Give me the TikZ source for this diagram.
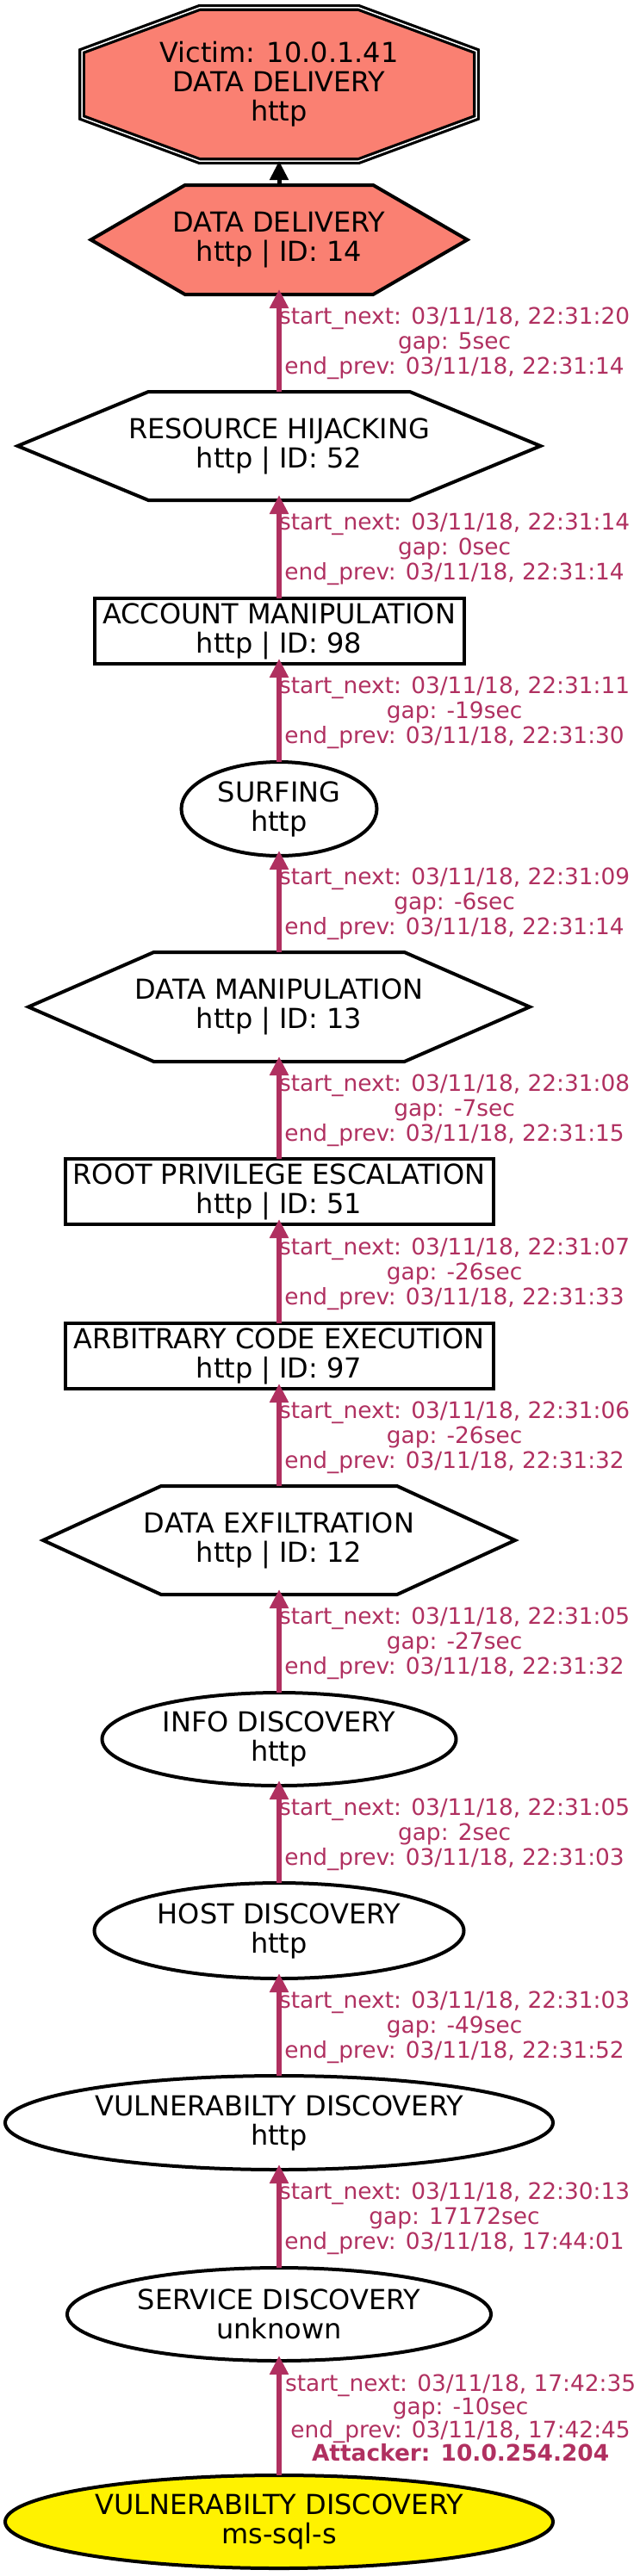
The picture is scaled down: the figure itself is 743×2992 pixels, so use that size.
\documentclass[tikz,border=0pt]{standalone}
\usepackage{fontspec}
\setmainfont{DejaVu Sans}
\usetikzlibrary{arrows.meta, calc, backgrounds, shapes.geometric}
\definecolor{edgemaroon}{HTML}{B03060}
\definecolor{nodesalmon}{HTML}{FA8072}

\tikzset{
  every node/.style={font=\fontsize{16}{17}\selectfont, align=center, outer sep=0pt, inner sep=0pt},
  ovalnode/.style={ellipse, draw, line width=2pt},
  boxnode/.style={rectangle, draw, line width=2pt},
  hexline/.style={draw, line width=2pt, line join=miter},
  flow/.style={draw=edgemaroon, line width=3pt, -{Triangle[length=11pt, width=10.5pt]}, shorten >=-3pt},
  gapinfo/.style={text=edgemaroon, font=\fontsize{13.2}{14.5}\selectfont, midway, right},
}

\begin{document}
\begin{tikzpicture}[x=0.5pt, y=-0.5pt]
  \useasboundingbox (0,0) rectangle (743,2992);

  \node[minimum width=229pt, minimum height=89pt]        (victim) at (324,98)     {Victim: 10.0.1.41\\DATA DELIVERY\\http};
  \node[minimum width=218.5pt, minimum height=63.5pt]    (dd)     at (324,278.5)  {DATA DELIVERY\\http | ID: 14};
  \node[minimum width=303.5pt, minimum height=63pt]      (rh)     at (324,518)    {RESOURCE HIJACKING\\http | ID: 52};
  \node[boxnode, minimum width=214.5pt, minimum height=38pt] (am) at (324,733)    {ACCOUNT MANIPULATION\\http | ID: 98};
  \node[ovalnode, minimum width=113.5pt, minimum height=54.5pt] (surf) at (324,939.5) {SURFING\\http};
  \node[minimum width=291pt, minimum height=63.5pt]      (dm)     at (324,1169.5) {DATA MANIPULATION\\http | ID: 13};
  \node[boxnode, minimum width=248.5pt, minimum height=38pt] (rpe) at (324,1384)  {ROOT PRIVILEGE ESCALATION\\http | ID: 51};
  \node[boxnode, minimum width=248.5pt, minimum height=38pt] (ace) at (324,1575)  {ARBITRARY CODE EXECUTION\\http | ID: 97};
  \node[minimum width=274pt, minimum height=63pt]        (de)     at (324,1789)   {DATA EXFILTRATION\\http | ID: 12};
  \node[ovalnode, minimum width=205.5pt, minimum height=54pt]   (info) at (324,2020)   {INFO DISCOVERY\\http};
  \node[ovalnode, minimum width=214.5pt, minimum height=55.5pt] (host) at (324,2242.5) {HOST DISCOVERY\\http};
  \node[ovalnode, minimum width=318pt, minimum height=54.5pt]   (vdh)  at (324,2465.5) {VULNERABILTY DISCOVERY\\http};
  \node[ovalnode, minimum width=246pt, minimum height=54pt]     (sd)   at (324,2688)   {SERVICE DISCOVERY\\unknown};
  \node[ovalnode, fill=yellow, minimum width=318pt, minimum height=54pt] (att) at (324,2929) {VULNERABILTY DISCOVERY\\ms-sql-s};

  \begin{scope}[on background layer]
    \draw[double=white, double distance=.75pt, line width=1.6pt, fill=nodesalmon]
      ($(victim.north)!.404!(victim.north west)$) -- ($(victim.north)!.404!(victim.north east)$)
      -- ($(victim.east)!.433!(victim.north east)$) -- ($(victim.east)!.433!(victim.south east)$)
      -- ($(victim.south)!.404!(victim.south east)$) -- ($(victim.south)!.404!(victim.south west)$)
      -- ($(victim.west)!.433!(victim.south west)$) -- ($(victim.west)!.433!(victim.north west)$) -- cycle;
    \foreach \n/\c in {dd/nodesalmon, rh/white, dm/white, de/white}
      \draw[hexline, fill=\c] (\n.west) -- ($(\n.north west)!.25!(\n.north east)$)
        -- ($(\n.north west)!.75!(\n.north east)$) -- (\n.east)
        -- ($(\n.south west)!.75!(\n.south east)$) -- ($(\n.south west)!.25!(\n.south east)$) -- cycle;
  \end{scope}

  \draw[line width=2.5pt, -{Triangle[length=11pt, width=10.5pt]}] (dd) -- (victim);
  \draw[flow] (rh)   -- node[gapinfo] {start\_next: 03/11/18, 22:31:20\\gap: 5sec\\end\_prev: 03/11/18, 22:31:14} (dd);
  \draw[flow] (am)   -- node[gapinfo] {start\_next: 03/11/18, 22:31:14\\gap: 0sec\\end\_prev: 03/11/18, 22:31:14} (rh);
  \draw[flow] (surf) -- node[gapinfo] {start\_next: 03/11/18, 22:31:11\\gap: -19sec\\end\_prev: 03/11/18, 22:31:30} (am);
  \draw[flow] (dm)   -- node[gapinfo] {start\_next: 03/11/18, 22:31:09\\gap: -6sec\\end\_prev: 03/11/18, 22:31:14} (surf);
  \draw[flow] (rpe)  -- node[gapinfo] {start\_next: 03/11/18, 22:31:08\\gap: -7sec\\end\_prev: 03/11/18, 22:31:15} (dm);
  \draw[flow] (ace)  -- node[gapinfo] {start\_next: 03/11/18, 22:31:07\\gap: -26sec\\end\_prev: 03/11/18, 22:31:33} (rpe);
  \draw[flow] (de)   -- node[gapinfo] {start\_next: 03/11/18, 22:31:06\\gap: -26sec\\end\_prev: 03/11/18, 22:31:32} (ace);
  \draw[flow] (info) -- node[gapinfo] {start\_next: 03/11/18, 22:31:05\\gap: -27sec\\end\_prev: 03/11/18, 22:31:32} (de);
  \draw[flow] (host) -- node[gapinfo] {start\_next: 03/11/18, 22:31:05\\gap: 2sec\\end\_prev: 03/11/18, 22:31:03} (info);
  \draw[flow] (vdh)  -- node[gapinfo] {start\_next: 03/11/18, 22:31:03\\gap: -49sec\\end\_prev: 03/11/18, 22:31:52} (host);
  \draw[flow] (sd)   -- node[gapinfo] {start\_next: 03/11/18, 22:30:13\\gap: 17172sec\\end\_prev: 03/11/18, 17:44:01} (vdh);
  \draw[flow] (att)  -- node[gapinfo, xshift=3.5pt, font=\fontsize{13.2}{13.5}\selectfont]
        {start\_next: 03/11/18, 17:42:35\\gap: -10sec\\end\_prev: 03/11/18, 17:42:45\\\textbf{Attacker: 10.0.254.204}} (sd);
\end{tikzpicture}
\end{document}
